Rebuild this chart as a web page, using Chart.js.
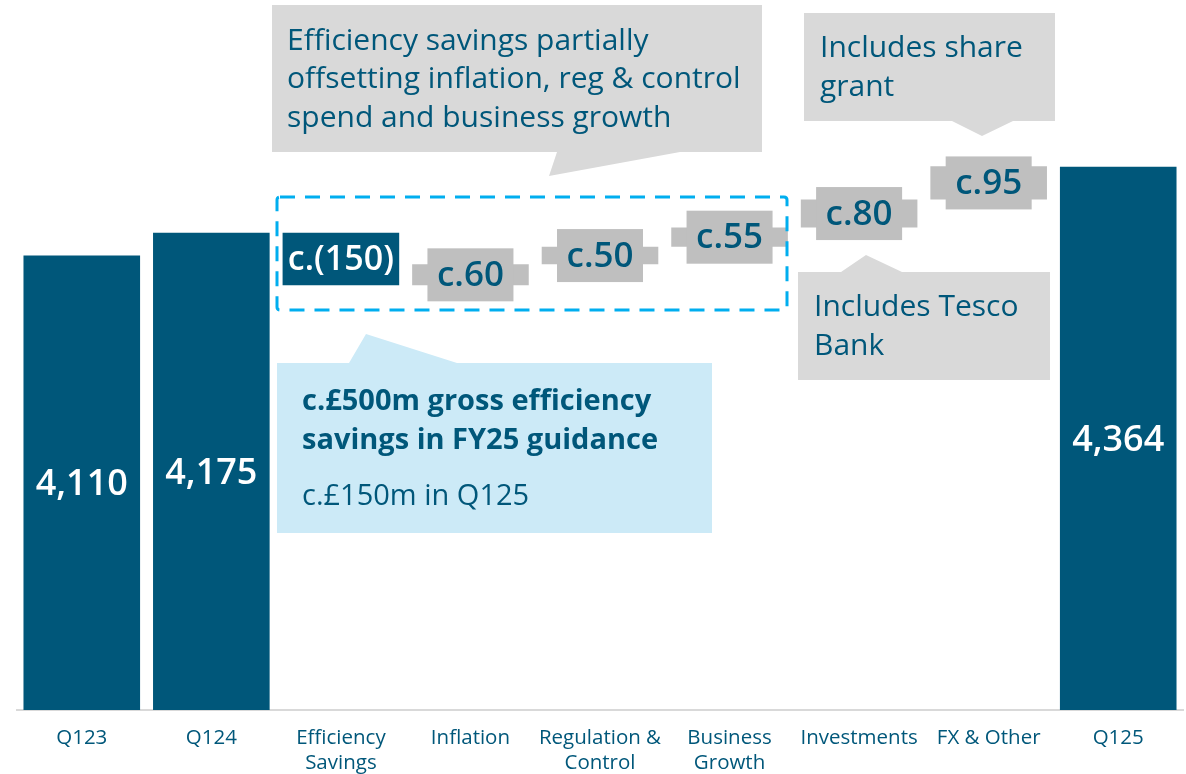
<!DOCTYPE html>
<html>
<head>
<meta charset="utf-8">
<script src="https://cdn.jsdelivr.net/npm/chart.js@4/dist/chart.umd.min.js"></script>
<style>
html,body{margin:0;padding:0;background:#fff;}
#wrap{width:1186px;height:774px;position:relative;}
</style>
</head>
<body>
<div id="wrap"><canvas id="c" width="1186" height="774"></canvas></div>
<script>
const categories = [['Q123'], ['Q124'], ['Efficiency', 'Savings'], ['Inflation'], ['Regulation &', 'Control'], ['Business', 'Growth'], ['Investments'], ['FX & Other'], ['Q125']];
const startTotal = [4110, 4175];
const deltas = [-150, 60, 50, 55, 80, 95];
const endTotal = 4364;
const valueLabels = ['4,110', '4,175', 'c.(150)', 'c.60', 'c.50', 'c.55', 'c.80', 'c.95', '4,364'];
const yMin = 2812, yMax = 4840;

const DARK = '#00577A';
const GREY = '#BFBFBF';
const TEAL = '#00577A';
const FONT = '"Open Sans", Lato, sans-serif';

// build floating bars from data
const barData = [];
const kinds = [];
barData.push([yMin, startTotal[0]]); kinds.push('total');
barData.push([yMin, startTotal[1]]); kinds.push('total');
let run = startTotal[1];
deltas.forEach(d => { barData.push([run, run + d]); run += d; kinds.push(d < 0 ? 'neg' : 'pos'); });
barData.push([yMin, endTotal]); kinds.push('total');
const colors = kinds.map(k => k === 'pos' ? GREY : DARK);

function roundRect(ctx, x, y, w, h, r) {
  ctx.beginPath();
  ctx.moveTo(x + r, y);
  ctx.lineTo(x + w - r, y); ctx.quadraticCurveTo(x + w, y, x + w, y + r);
  ctx.lineTo(x + w, y + h - r); ctx.quadraticCurveTo(x + w, y + h, x + w - r, y + h);
  ctx.lineTo(x + r, y + h); ctx.quadraticCurveTo(x, y + h, x, y + h - r);
  ctx.lineTo(x, y + r); ctx.quadraticCurveTo(x, y, x + r, y);
  ctx.closePath();
}

const labelPlugin = {
  id: 'labels',
  afterDatasetsDraw(chart) {
    const ctx = chart.ctx;
    const meta = chart.getDatasetMeta(0);
    ctx.save();
    ctx.textAlign = 'center';
    ctx.textBaseline = 'middle';
    meta.data.forEach((el, i) => {
      const cx = el.x;
      const cy = (el.y + el.base) / 2;
      if (kinds[i] === 'total') {
        ctx.fillStyle = '#fff';
        ctx.font = '600 36px ' + FONT;
        ctx.fillText(valueLabels[i], cx, cy + 2);
      } else if (kinds[i] === 'neg') {
        ctx.fillStyle = '#fff';
        ctx.font = '600 34px ' + FONT;
        ctx.fillText(valueLabels[i], cx, cy + 1);
      } else {
        ctx.fillStyle = GREY;
        ctx.fillRect(cx - 43, cy - 26.5, 86, 53);
        ctx.fillStyle = TEAL;
        ctx.font = '600 35px ' + FONT;
        ctx.fillText(valueLabels[i], cx, cy + 1);
      }
    });
    ctx.restore();
  },
  afterDraw(chart) {
    const ctx = chart.ctx;
    ctx.save();
    // dashed box
    ctx.strokeStyle = '#00AEEF';
    ctx.lineWidth = 3;
    ctx.setLineDash([15, 10]);
    roundRect(ctx, 277, 197, 510, 113, 3);
    ctx.stroke();
    ctx.setLineDash([]);

    // callout 1
    ctx.fillStyle = '#D9D9D9';
    ctx.beginPath();
    ctx.moveTo(272, 5); ctx.lineTo(762, 5); ctx.lineTo(762, 152);
    ctx.lineTo(680, 152); ctx.lineTo(549, 176); ctx.lineTo(557, 152);
    ctx.lineTo(272, 152); ctx.closePath(); ctx.fill();
    ctx.fillStyle = TEAL;
    ctx.textAlign = 'left'; ctx.textBaseline = 'middle';
    ctx.font = '30px ' + FONT;
    ['Efficiency savings partially', 'offsetting inflation, reg & control', 'spend and business growth']
      .forEach((t, k) => ctx.fillText(t, 287, 41 + k * 38.5));

    // callout 2
    ctx.fillStyle = '#D9D9D9';
    ctx.beginPath();
    ctx.moveTo(804, 13); ctx.lineTo(1055, 13); ctx.lineTo(1055, 121);
    ctx.lineTo(1013, 121); ctx.lineTo(982, 136); ctx.lineTo(952, 121);
    ctx.lineTo(804, 121); ctx.closePath(); ctx.fill();
    ctx.fillStyle = TEAL;
    ['Includes share', 'grant'].forEach((t, k) => ctx.fillText(t, 820, 48 + k * 39));

    // callout 3
    ctx.fillStyle = '#D9D9D9';
    ctx.beginPath();
    ctx.moveTo(798, 272); ctx.lineTo(841, 272); ctx.lineTo(866, 255); ctx.lineTo(902, 272);
    ctx.lineTo(1050, 272); ctx.lineTo(1050, 380); ctx.lineTo(798, 380); ctx.closePath(); ctx.fill();
    ctx.fillStyle = TEAL;
    ['Includes Tesco', 'Bank'].forEach((t, k) => ctx.fillText(t, 814, 307 + k * 39));

    // light blue box
    ctx.fillStyle = '#CCEAF7';
    ctx.beginPath();
    ctx.moveTo(277, 363); ctx.lineTo(349, 363); ctx.lineTo(366, 334); ctx.lineTo(457, 363);
    ctx.lineTo(712, 363); ctx.lineTo(712, 533); ctx.lineTo(277, 533); ctx.closePath(); ctx.fill();
    ctx.fillStyle = TEAL;
    ctx.font = 'bold 29px ' + FONT;
    ctx.fillText('c.£500m gross efficiency', 302, 402);
    ctx.fillText('savings in FY25 guidance', 302, 441);
    ctx.font = '29px ' + FONT;
    ctx.fillText('c.£150m in Q125', 302, 497);
    ctx.restore();
  }
};

new Chart(document.getElementById('c'), {
  type: 'bar',
  data: {
    labels: categories,
    datasets: [{
      data: barData,
      backgroundColor: colors,
      borderWidth: 0,
      barPercentage: 0.9,
      categoryPercentage: 1.0
    }]
  },
  options: {
    responsive: false,
    animation: false,
    maintainAspectRatio: false,
    layout: { padding: { left: 17, right: 3, top: 0, bottom: 0 } },
    plugins: { legend: { display: false }, tooltip: { enabled: false } },
    scales: {
      x: {
        grid: { display: false, drawTicks: false },
        border: { display: true, color: '#D9D9D9', width: 2 },
        ticks: { color: TEAL, font: { family: FONT, size: 20.5, lineHeight: 1.22 }, padding: 16, maxRotation: 0, autoSkip: false },
        afterFit: (s) => { s.height = 64; }
      },
      y: { display: false, min: yMin, max: yMax }
    }
  },
  plugins: [labelPlugin]
});
</script>
</body>
</html>
